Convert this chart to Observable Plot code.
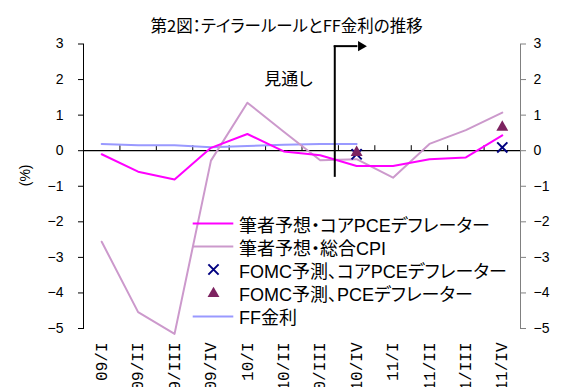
<!DOCTYPE html>
<html>
<head>
<meta charset="utf-8">
<script src="https://cdn.jsdelivr.net/npm/d3@7"></script>
<script src="https://cdn.jsdelivr.net/npm/@observablehq/plot@0.6"></script>
<style>
  body { margin: 0; background: #fff; }
  #chart { position: relative; width: 561px; height: 387px; }
  #legend {
    position: absolute; left: 192px; top: 212px;
    font: 18px "Liberation Sans", "Noto Sans CJK JP", sans-serif; color: #000;
    font-feature-settings: "palt";
  }
  #legend .row { display: flex; align-items: center; height: 23.2px; white-space: nowrap; }
  #legend .row svg { width: 42px; height: 23px; margin-right: 5px; flex: none; }
</style>
</head>
<body>
<div id="chart"></div>
<script>
// Quarters on the horizontal axis
const categories = ["09/I", "09/II", "09/III", "09/IV", "10/I", "10/II", "10/III", "10/IV", "11/I", "11/II", "11/III", "11/IV"];
// Author's Taylor-rule estimates (%)
const coreRule = [-0.1, -0.59, -0.81, 0.08, 0.47, -0.02, -0.13, -0.43, -0.43, -0.24, -0.19, 0.43];
const cpiRule = [-2.56, -4.54, -5.15, -0.28, 1.35, 0.53, -0.27, -0.24, -0.76, 0.19, 0.58, 1.07];
// FOMC-projection based estimates (only 10/IV and 11/IV)
const fomcCore = [null, null, null, null, null, null, null, -0.1, null, null, null, 0.09];
const fomcPce = [null, null, null, null, null, null, null, -0.05, null, null, null, 0.66];
// Effective federal funds rate (%)
const ffRate = [0.19, 0.15, 0.15, 0.1, 0.13, 0.17, 0.19, 0.19];
const yTicks = [-5, -4, -3, -2, -1, 0, 1, 2, 3];

const title = "第2図：テイラールールとFF金利の推移";
const outlookLabel = "見通し";
const legendItems = [
  {label: "筆者予想・コアPCEデフレーター", kind: "line", color: "#ff00ff"},
  {label: "筆者予想・総合CPI", kind: "line", color: "#cc99cc"},
  {label: "FOMC予測、コアPCEデフレーター", kind: "times", color: "#000080"},
  {label: "FOMC予測、PCEデフレーター", kind: "triangle", color: "#7d2360"},
  {label: "FF金利", kind: "line", color: "#9999ff"}
];

const W = 561, H = 387;
const M = {top: 43.5, right: 41, bottom: 59, left: 83};
const yDomain = [-5, 3];
const tickLen = 5 * (yDomain[1] - yDomain[0]) / (H - M.top - M.bottom);

const series = vals => vals.map((v, i) => ({i, v})).filter(d => d.v != null);
const boundaries = d3.range(categories.length - 1).map(i => i + 0.5);

// Outlook marker: vertical rule just before 10/IV, arrow pointing right
const outlookX = 6.4, outlookTop = 2.94, outlookBottom = -0.75, arrowTip = 7.12;

const fontStack = "'Liberation Sans', 'Noto Sans CJK JP', sans-serif";
const jpFont = "'Noto Sans CJK JP', sans-serif";

const chart = Plot.plot({
  width: W, height: H,
  marginTop: M.top, marginRight: M.right, marginBottom: M.bottom, marginLeft: M.left,
  style: {fontFamily: fontStack, fontSize: "14px", color: "#000", background: "#fff", overflow: "visible", fontFeatureSettings: "'palt'"},
  x: {type: "linear", domain: [-0.5, categories.length - 0.5]},
  y: {domain: yDomain},
  marks: [
    Plot.frame({anchor: "left", stroke: "#000"}),
    Plot.frame({anchor: "right", stroke: "#808080"}),
    Plot.axisY({anchor: "left", ticks: yTicks, tickSize: 5, tickPadding: 15, fontSize: 14, label: null}),
    Plot.axisY({anchor: "right", ticks: yTicks, tickSize: 5, tickPadding: 8, fontSize: 14, label: null, stroke: "#808080", color: "#000"}),
    Plot.axisX({anchor: "bottom", ticks: categories.map((_, i) => i), tickFormat: i => categories[i],
      tickSize: 0, tickPadding: 14, tickRotate: -90, fontSize: 16, fontFamily: "'Liberation Mono', monospace", label: null}),
    Plot.text(["(%)"], {frameAnchor: "left", dx: -58, rotate: -90, fontSize: 14}),
    Plot.text([title], {frameAnchor: "top-left", textAnchor: "start", dx: 67, dy: -24, fontSize: 16.5, fontFamily: jpFont}),
    // category axis drawn at zero with ticks between quarters
    Plot.ruleY([0], {stroke: "#000", strokeWidth: 1.2}),
    Plot.ruleX(boundaries, {y1: 0, y2: tickLen, stroke: "#000"}),
    Plot.line(series(ffRate), {x: "i", y: "v", stroke: "#9999ff", strokeWidth: 2}),
    Plot.line(series(cpiRule), {x: "i", y: "v", stroke: "#cc99cc", strokeWidth: 2}),
    Plot.line(series(coreRule), {x: "i", y: "v", stroke: "#ff00ff", strokeWidth: 2}),
    Plot.dot(series(fomcCore), {x: "i", y: "v", symbol: "times", r: 4.7, stroke: "#000080", strokeWidth: 2}),
    Plot.dot(series(fomcPce), {x: "i", y: "v", symbol: "triangle", r: 4.4, fill: "#7d2360", stroke: null}),
    // outlook arrow
    Plot.ruleX([outlookX], {y1: outlookBottom, y2: outlookTop, stroke: "#000", strokeWidth: 2}),
    Plot.link([{}], {x1: outlookX - 0.03, y1: outlookTop, x2: arrowTip - 0.1, y2: outlookTop, stroke: "#000", strokeWidth: 2}),
    Plot.dot([{}], {x: () => arrowTip, y: () => outlookTop, symbol: "triangle", rotate: 90, r: 3.8, fill: "#000", stroke: null}),
    Plot.text([outlookLabel], {x: 5.13, y: 2.0, fontSize: 17, fontFamily: jpFont})
  ]
});

const host = document.getElementById("chart");
host.appendChild(chart);

// Legend overlaid inside the plot area (no background)
const legend = document.createElement("div");
legend.id = "legend";
for (const item of legendItems) {
  const row = document.createElement("div");
  row.className = "row";
  const sw = d3.create("svg").attr("viewBox", "0 0 42 23");
  if (item.kind === "line") {
    sw.append("line").attr("x1", 0.7).attr("x2", 41.3).attr("y1", 11.5).attr("y2", 11.5)
      .attr("stroke", item.color).attr("stroke-width", 2);
  } else if (item.kind === "times") {
    sw.append("path").attr("transform", "translate(21.5,11.5)")
      .attr("d", d3.symbol(d3.symbolTimes, 70)()).attr("fill", "none")
      .attr("stroke", item.color).attr("stroke-width", 2);
  } else {
    sw.append("path").attr("transform", "translate(21.5,11.5)")
      .attr("d", d3.symbol(d3.symbolTriangle, 4.4 * 4.4 * Math.PI)()).attr("fill", item.color);
  }
  row.appendChild(sw.node());
  const span = document.createElement("span");
  span.textContent = item.label;
  row.appendChild(span);
  legend.appendChild(row);
}
host.appendChild(legend);
</script>
</body>
</html>
